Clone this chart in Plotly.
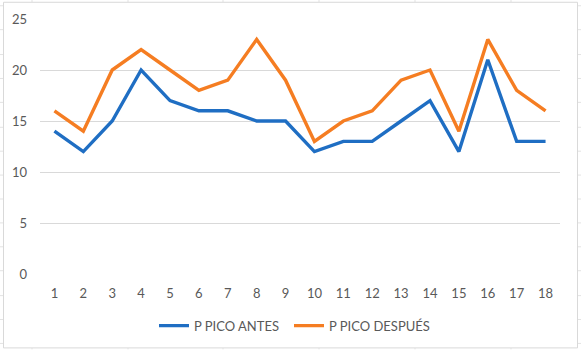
import plotly.graph_objects as go

categories = [str(i) for i in range(1, 19)]
antes = [14, 12, 15, 20, 17, 16, 16, 15, 15, 12, 13, 13, 15, 17, 12, 21, 13, 13]
despues = [16, 14, 20, 22, 20, 18, 19, 23, 19, 13, 15, 16, 19, 20, 14, 23, 18, 16]
y_ticks = [0, 5, 10, 15, 20, 25]

W, H = 581, 351
L, R, T, B = 40, 560, 19.3, 275.3


def px(x):
    return (x - L) / (R - L)


def py(y):
    return (B - y) / (B - T)


FONT = "Lato, Liberation Sans, sans-serif"
TXT = "#595959"

fig = go.Figure()
fig.add_trace(go.Scatter(x=categories, y=antes, name="P PICO ANTES", mode="lines",
                         line=dict(color="#1F6EC3", width=3.4), legend="legend"))
fig.add_trace(go.Scatter(x=categories, y=despues, name="P PICO DESPUÉS", mode="lines",
                         line=dict(color="#F57D22", width=3.4), legend="legend2"))

shapes = []
# spreadsheet grid behind the chart
for gx in [32, 128, 223, 319, 415, 511]:
    shapes.append(dict(type="line", xref="paper", yref="paper", layer="below",
                       x0=px(gx), x1=px(gx), y0=py(0), y1=py(H),
                       line=dict(color="#E3E3E3", width=1)))
for gy in [6, 30, 55, 79, 103, 128, 152, 176, 200, 224, 248, 272, 297, 321, 345]:
    shapes.append(dict(type="line", xref="paper", yref="paper", layer="below",
                       x0=px(0), x1=px(W), y0=py(gy), y1=py(gy),
                       line=dict(color="#E3E3E3", width=1)))
# chart area
shapes.append(dict(type="rect", xref="paper", yref="paper", layer="below",
                   x0=px(3.5), x1=px(577.5), y0=py(349.5), y1=py(2.5),
                   fillcolor="white", line=dict(color="#D9D9D9", width=1)))

leg_common = dict(orientation="h", xanchor="left", y=py(326), yanchor="middle",
                  font=dict(family=FONT, size=13, color=TXT), itemwidth=30,
                  bgcolor="rgba(0,0,0,0)")

fig.update_layout(
    width=W, height=H,
    margin=dict(l=L, r=W - R, t=T, b=H - B, pad=0),
    paper_bgcolor="white", plot_bgcolor="rgba(0,0,0,0)",
    font=dict(family=FONT, size=13, color=TXT),
    showlegend=True,
    legend=dict(x=px(154), **leg_common),
    legend2=dict(x=px(289), **leg_common),
    shapes=shapes,
    xaxis=dict(type="category", range=[-0.5, 17.5], showgrid=False, zeroline=False,
               showline=False, ticks="", tickfont=dict(family=FONT, size=13, color=TXT),
               ticklabelstandoff=10),
    yaxis=dict(range=[0, 25], tickvals=y_ticks, showgrid=True, gridcolor="#D9D9D9",
               gridwidth=1, zeroline=False, showline=False, ticks="",
               tickfont=dict(family=FONT, size=13, color=TXT), ticklabelstandoff=12),
)

fig.write_html("out.html")
